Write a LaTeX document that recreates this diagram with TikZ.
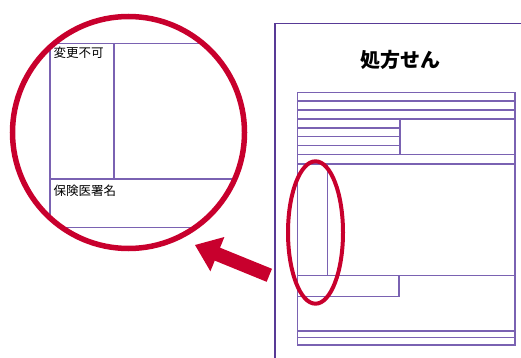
\documentclass[tikz,border=0pt]{standalone}
\usepackage{fontspec}
\newfontfamily\cjk{Noto Sans CJK JP}
\definecolor{mag}{RGB}{200,0,45}
\definecolor{formline}{RGB}{122,98,178}
\definecolor{pageline}{RGB}{88,58,150}
\tikzset{
  fl/.style={draw=formline, line width=1.2pt},
  pg/.style={draw=pageline, line width=1.8pt},
  redring/.style={draw=mag, line width=5.5pt},
  redoval/.style={draw=mag, line width=4pt},
  lbl/.style={inner sep=0pt, anchor=west, font=\cjk\fontsize{12.5}{13}\selectfont},
}
\begin{document}
\begin{tikzpicture}[x=1pt,y=-1pt]
\useasboundingbox (0,0) rectangle (521,358);
\clip (0,0) rectangle (521,358);
% page
\draw[pg] (275,370) -- (275,23.5) -- (540,23.5);
\node[inner sep=0pt, font=\cjk\bfseries\fontsize{20}{22}\selectfont] (title) at (400,60) {処方せん};
% form
\draw[fl] (297.7,92.3) rectangle (515,345);
\foreach \y in {101,110,119,154.7,164,275.7,331,337.7}
  \draw[fl] (297.7,\y) -- (515,\y);
\foreach \y in {128,136.7,145.7}
  \draw[fl] (297.7,\y) -- (400,\y);
\draw[fl] (400,119) -- (400,154.7);
\draw[fl] (327.7,164) -- (327.7,275.7);
\draw[fl] (297.7,296.7) -- (399,296.7) -- (399,275.7);
% red oval
\draw[redoval] (315.5,232.5) ellipse [x radius=27.5, y radius=71.2];
% magnified view
\begin{scope}
  \clip (128.5,132.5) circle [radius=118];
  \draw[fl] (50,300) -- (50,43.3) -- (300,43.3);
  \draw[fl] (114,43.3) -- (114,179);
  \draw[fl] (50,179) -- (300,179);
  \draw[fl] (0,227.3) -- (300,227.3);
\end{scope}
\node[lbl] (henko) at (53.5,53) {変更不可};
\node[lbl] (hoken) at (53.5,190.5) {保険医署名};
\draw[redring] (128.5,132.5) circle [radius=116];
% arrow
\fill[mag] (195,245) -- (224.4,237.0) -- (220.05,247.7) -- (271.95,268.8)
  -- (266.65,281.8) -- (214.75,260.6) -- (210.4,271.3) -- cycle;
\end{tikzpicture}
\end{document}
